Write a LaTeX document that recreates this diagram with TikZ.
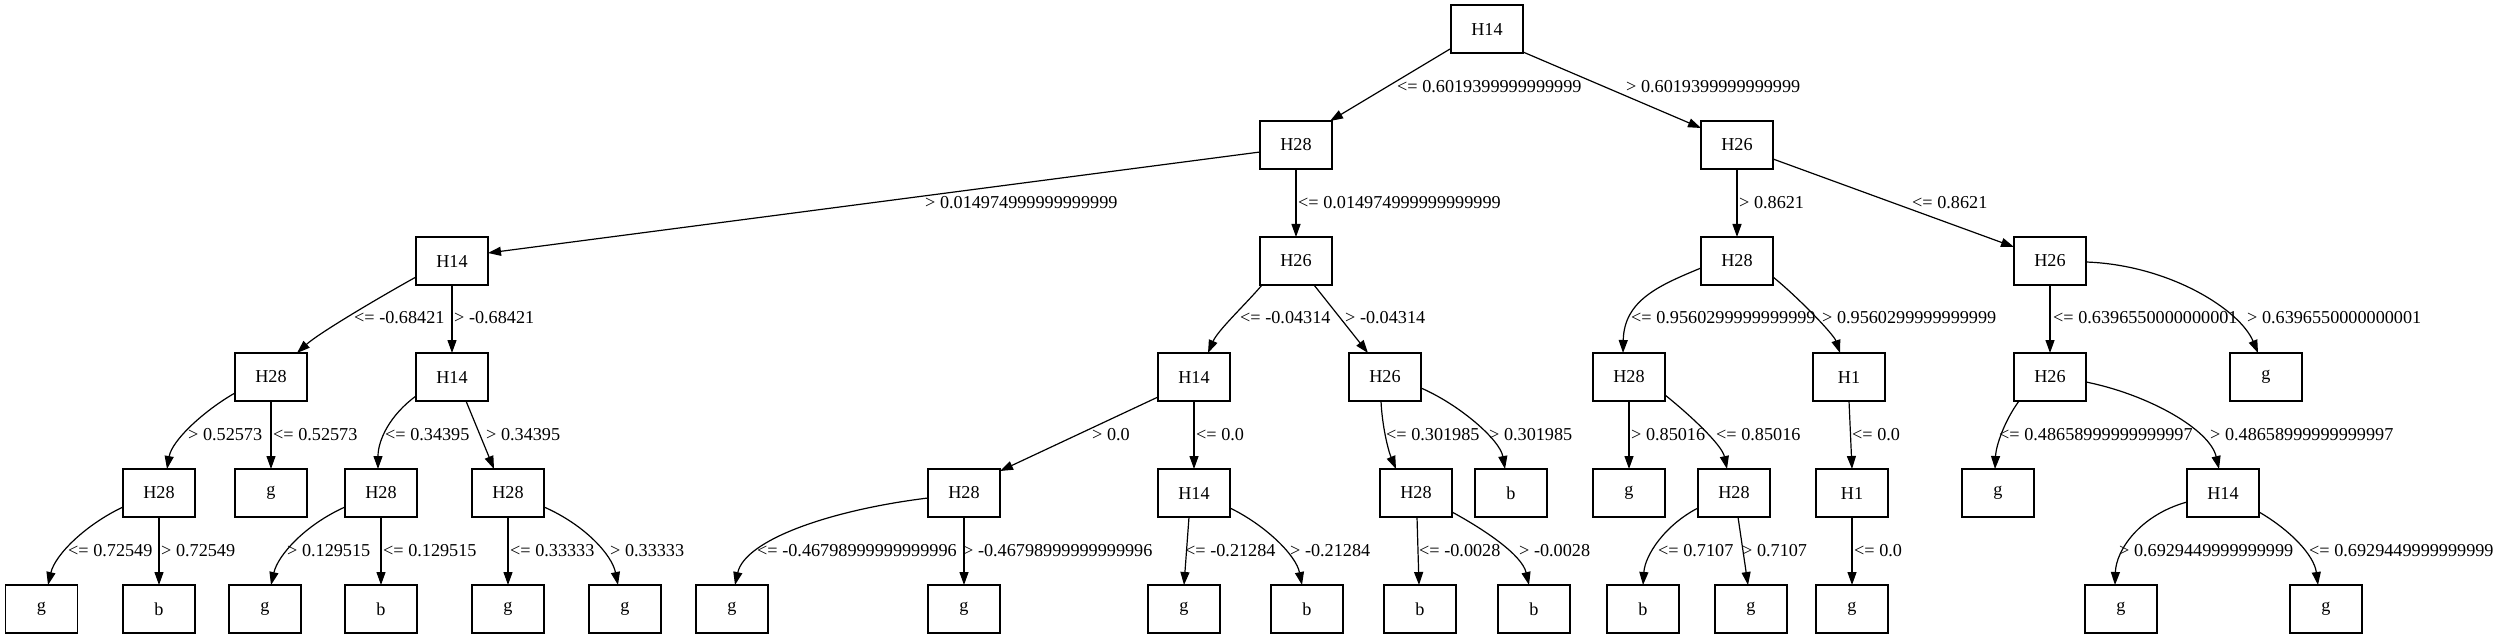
\documentclass[tikz,border=0pt]{standalone}
\usepackage{fontspec}
\setmainfont{Liberation Serif}
\usetikzlibrary{arrows.meta,calc}
\begin{document}
\begin{tikzpicture}[x=1pt,y=-1pt,
  box/.style={draw, line width=1.3pt, rectangle, minimum width=72pt, minimum height=48pt, inner sep=0pt, font=\fontsize{18.2}{20}\selectfont},
  lab/.style={anchor=base west, inner sep=0pt, font=\fontsize{18.2}{20}\selectfont},
  conn/.style={line width=1.2pt, -{Triangle[length=13pt,width=9pt]}}
]
\useasboundingbox (0,0) rectangle (2500,639);
% level 0-2
\node[box] (r) at (1487,29) {H14};
\node[box] (a) at (1296,145) {H28};
\node[box] (b) at (1737,145) {H26};
\node[box] (aa) at (452,261) {H14};
\node[box] (ab) at (1296,261) {H26};
\node[box] (ba) at (1737,261) {H28};
\node[box] (bb) at (2050,261) {H26};
% level 3
\node[box] (aaa) at (271,377) {H28};
\node[box] (aab) at (452,377) {H14};
\node[box] (aba) at (1194,377) {H14};
\node[box] (abb) at (1385,377) {H26};
\node[box] (baa) at (1629,377) {H28};
\node[box] (bab) at (1849,377) {H1};
\node[box] (bba) at (2050,377) {H26};
\node[box] (bbb) at (2266,377) {g};
% level 4
\node[box] (aaaa) at (159,493) {H28};
\node[box] (aaab) at (271,493) {g};
\node[box] (aaba) at (381,493) {H28};
\node[box] (aabb) at (508,493) {H28};
\node[box] (abaa) at (964,493) {H28};
\node[box] (abab) at (1194,493) {H14};
\node[box] (abba) at (1416,493) {H28};
\node[box] (abbb) at (1511,493) {b};
\node[box] (baaa) at (1629,493) {g};
\node[box] (baab) at (1734,493) {H28};
\node[box] (baba) at (1852,493) {H1};
\node[box] (bbaa) at (1998,493) {g};
\node[box] (bbab) at (2223,493) {H14};
% level 5
\node[box] (l1) at (41.5,609) {g};
\node[box] (l2) at (159,609) {b};
\node[box] (l3) at (265,609) {g};
\node[box] (l4) at (381,609) {b};
\node[box] (l5) at (508,609) {g};
\node[box] (l6) at (625,609) {g};
\node[box] (l7) at (732,609) {g};
\node[box] (l8) at (964,609) {g};
\node[box] (l9) at (1184,609) {g};
\node[box] (l10) at (1307,609) {b};
\node[box] (l11) at (1420,609) {b};
\node[box] (l12) at (1534,609) {b};
\node[box] (l13) at (1643,609) {b};
\node[box] (l14) at (1751,609) {g};
\node[box] (l15) at (1852,609) {g};
\node[box] (l16) at (2121,609) {g};
\node[box] (l17) at (2326,609) {g};

% edges level 0-1
\draw[conn] ($(r)+(-37,20)$) -- ($(a)+(34,-24)$);
\draw[conn] ($(r)+(36,23)$) -- ($(b)+(-36,-17)$);
% level 1-2
\draw[conn] ($(a)+(-36,7)$) -- ($(aa)+(36,-8)$);
\draw[conn] ($(a)+(0,24)$) -- ($(ab)+(0,-24)$);
\draw[conn] ($(b)+(0,24)$) -- ($(ba)+(0,-24)$);
\draw[conn] ($(b)+(36,14)$) -- ($(bb)+(-36,-14)$);
% level 2-3
\draw[conn] ($(aa)+(-36,16)$) .. controls (380,297) and (319,333) .. ($(aaa)+(26,-24)$);
\draw[conn] ($(aa)+(0,24)$) -- ($(aab)+(0,-24)$);
\draw[conn] ($(ab)+(-34,24)$) .. controls (1245,305) and (1218,330) .. ($(aba)+(14,-24)$);
\draw[conn] ($(ab)+(18,24)$) -- ($(abb)+(-17,-24)$);
\draw[conn] ($(ba)+(-36,7)$) .. controls (1660,285) and (1624,300) .. ($(baa)+(-6,-24)$);
\draw[conn] ($(ba)+(36,16)$) .. controls (1800,299) and (1834,335) .. ($(bab)+(-9,-24)$);
\draw[conn] ($(bb)+(0,24)$) -- ($(bba)+(0,-24)$);
\draw[conn] ($(bb)+(36,1)$) .. controls (2170,265) and (2240,310) .. ($(bbb)+(-8,-24)$);
% level 3-4
\draw[conn] ($(aaa)+(-36,16)$) .. controls (205,410) and (172,440) .. ($(aaaa)+(8,-24)$);
\draw[conn] ($(aaa)+(0,24)$) -- ($(aaab)+(0,-24)$);
\draw[conn] ($(aab)+(-36,19)$) .. controls (390,415) and (378,440) .. ($(aaba)+(-3,-24)$);
\draw[conn] ($(aab)+(14,24)$) -- ($(aabb)+(-14,-24)$);
\draw[conn] ($(aba)+(-36,20)$) -- ($(abaa)+(36,-22)$);
\draw[conn] ($(aba)+(0,24)$) -- ($(abab)+(0,-24)$);
\draw[conn] ($(abb)+(-4,24)$) .. controls (1382,425) and (1388,450) .. ($(abba)+(-20,-24)$);
\draw[conn] ($(abb)+(36,11)$) .. controls (1460,405) and (1500,440) .. ($(abbb)+(-6,-24)$);
\draw[conn] ($(baa)+(0,24)$) -- ($(baaa)+(0,-24)$);
\draw[conn] ($(baa)+(36,18)$) .. controls (1690,415) and (1722,445) .. ($(baab)+(-7,-24)$);
\draw[conn] ($(bab)+(0,24)$) -- ($(baba)+(0,-24)$);
\draw[conn] ($(bba)+(-31,24)$) .. controls (2005,420) and (1996,445) .. ($(bbaa)+(-3,-24)$);
\draw[conn] ($(bba)+(36,5)$) .. controls (2150,395) and (2210,430) .. ($(bbab)+(-4,-24)$);
% level 4-5
\draw[conn] ($(aaaa)+(-36,14)$) .. controls (85,525) and (55,555) .. ($(l1)+(6.5,-24)$);
\draw[conn] ($(aaaa)+(0,24)$) -- ($(l2)+(0,-24)$);
\draw[conn] ($(aaba)+(-36,14)$) .. controls (305,525) and (278,555) .. ($(l3)+(6,-24)$);
\draw[conn] ($(aaba)+(0,24)$) -- ($(l4)+(0,-24)$);
\draw[conn] ($(aabb)+(0,24)$) -- ($(l5)+(0,-24)$);
\draw[conn] ($(aabb)+(36,14)$) .. controls (585,525) and (612,555) .. ($(l6)+(-7,-24)$);
\draw[conn] ($(abaa)+(-36,5)$) .. controls (830,510) and (745,540) .. ($(l7)+(3,-24)$);
\draw[conn] ($(abaa)+(0,24)$) -- ($(l8)+(0,-24)$);
\draw[conn] ($(abab)+(-5,24)$) -- ($(l9)+(0,-24)$);
\draw[conn] ($(abab)+(36,15)$) .. controls (1265,525) and (1296,555) .. ($(l10)+(-5,-24)$);
\draw[conn] ($(abba)+(1,24)$) -- ($(l11)+(-1,-24)$);
\draw[conn] ($(abba)+(36,19)$) .. controls (1485,530) and (1522,555) .. ($(l12)+(-5,-24)$);
\draw[conn] ($(baab)+(-36,15)$) .. controls (1665,525) and (1645,555) .. ($(l13)+(0,-24)$);
\draw[conn] ($(baab)+(4,24)$) -- ($(l14)+(-3,-24)$);
\draw[conn] ($(baba)+(0,24)$) -- ($(l15)+(0,-24)$);
\draw[conn] ($(bbab)+(-36,9)$) .. controls (2140,515) and (2116,550) .. ($(l16)+(-6,-24)$);
\draw[conn] ($(bbab)+(36,19)$) .. controls (2290,530) and (2314,555) .. ($(l17)+(-8,-24)$);

% labels
\node[lab] (t1) at (1397,93) {<= 0.6019399999999999};
\node[lab] (t2) at (1626,93) {> 0.6019399999999999};
\node[lab] (t3) at (925,208.5) {> 0.014974999999999999};
\node[lab] (t4) at (1298,208.5) {<= 0.014974999999999999};
\node[lab] (t5) at (1739,208.5) {> 0.8621};
\node[lab] (t6) at (1912,208.5) {<= 0.8621};
\node[lab] (t7) at (354,323.5) {<= -0.68421};
\node[lab] (t8) at (454,323.5) {> -0.68421};
\node[lab] (t9) at (1240,323.5) {<= -0.04314};
\node[lab] (t10) at (1345,323.5) {> -0.04314};
\node[lab] (t11) at (1631,323.5) {<= 0.9560299999999999};
\node[lab] (t12) at (1822,323.5) {> 0.9560299999999999};
\node[lab] (t13) at (2053,323.5) {<= 0.6396550000000001};
\node[lab] (t14) at (2247,323.5) {> 0.6396550000000001};
\node[lab] (t15) at (188,440.5) {> 0.52573};
\node[lab] (t16) at (273,440.5) {<= 0.52573};
\node[lab] (t17) at (385,440.5) {<= 0.34395};
\node[lab] (t18) at (486,440.5) {> 0.34395};
\node[lab] (t19) at (1092,440.5) {> 0.0};
\node[lab] (t20) at (1196,440.5) {<= 0.0};
\node[lab] (t21) at (1386,440.5) {<= 0.301985};
\node[lab] (t22) at (1489,440.5) {> 0.301985};
\node[lab] (t23) at (1631,440.5) {> 0.85016};
\node[lab] (t24) at (1716,440.5) {<= 0.85016};
\node[lab] (t25) at (1852,440.5) {<= 0.0};
\node[lab] (t26) at (1999,440.5) {<= 0.48658999999999997};
\node[lab] (t27) at (2210,440.5) {> 0.48658999999999997};
\node[lab] (t28) at (68,556.5) {<= 0.72549};
\node[lab] (t29) at (161,556.5) {> 0.72549};
\node[lab] (t30) at (287,556.5) {> 0.129515};
\node[lab] (t31) at (383,556.5) {<= 0.129515};
\node[lab] (t32) at (510,556.5) {<= 0.33333};
\node[lab] (t33) at (610,556.5) {> 0.33333};
\node[lab] (t34) at (757,556.5) {<= -0.46798999999999996};
\node[lab] (t35) at (963,556.5) {> -0.46798999999999996};
\node[lab] (t36) at (1185,556.5) {<= -0.21284};
\node[lab] (t37) at (1290,556.5) {> -0.21284};
\node[lab] (t38) at (1419,556.5) {<= -0.0028};
\node[lab] (t39) at (1519,556.5) {> -0.0028};
\node[lab] (t40) at (1658,556.5) {<= 0.7107};
\node[lab] (t41) at (1742,556.5) {> 0.7107};
\node[lab] (t42) at (1854,556.5) {<= 0.0};
\node[lab] (t43) at (2119,556.5) {> 0.6929449999999999};
\node[lab] (t44) at (2309,556.5) {<= 0.6929449999999999};
\end{tikzpicture}
\end{document}
